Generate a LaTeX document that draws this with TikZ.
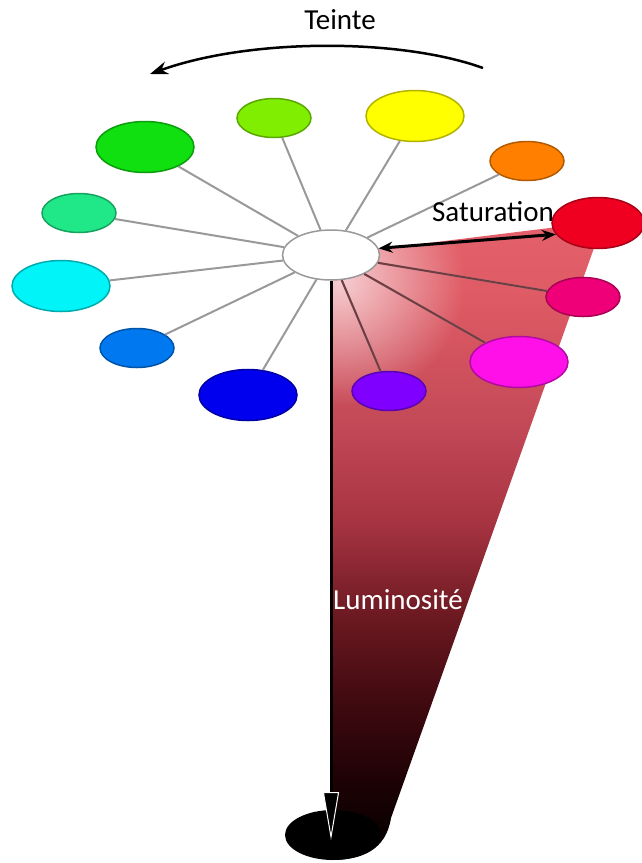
\documentclass[tikz,border=0pt]{standalone}
\usepackage{fontspec}
\setmainfont{Carlito}
\usetikzlibrary{shapes.geometric,arrows.meta,fadings}
\definecolor{cLime}{HTML}{80EE00}
\definecolor{cGreen}{HTML}{10E010}
\definecolor{cYellow}{HTML}{FFFF00}
\definecolor{cOrange}{HTML}{FF8000}
\definecolor{cRed}{HTML}{F00020}
\definecolor{cPink}{HTML}{F00078}
\definecolor{cMagenta}{HTML}{FF10E8}
\definecolor{cViolet}{HTML}{8000FF}
\definecolor{cBlue}{HTML}{0000EE}
\definecolor{cAzure}{HTML}{0078F0}
\definecolor{cCyan}{HTML}{00F4F8}
\definecolor{cSpring}{HTML}{20E888}
\definecolor{sA}{HTML}{E4606A}
\definecolor{sB}{HTML}{DE5A64}
\definecolor{sC}{HTML}{C44A58}
\definecolor{sD}{HTML}{A83442}
\definecolor{sE}{HTML}{6A1820}
\definecolor{sF}{HTML}{400A10}
\definecolor{sG}{HTML}{1E0205}
\definecolor{spokeDark}{HTML}{6A2E34}
\pgfdeclareverticalshading{lumshade}{100bp}{color(0bp)=(black); color(25bp)=(black); color(31.3bp)=(sG); color(37.5bp)=(sF); color(43.8bp)=(sE); color(51.6bp)=(sD); color(59.5bp)=(sC); color(68.9bp)=(sB); color(75bp)=(sA); color(100bp)=(sA)}
\tikzfading[name=myglow, inner color=transparent!0, outer color=transparent!100]
\begin{document}
\begin{tikzpicture}[x=1pt,y=-1pt,
  hue/.style={ellipse, draw=#1!70!black, fill=#1, line width=1.5pt, inner sep=0pt},
  bigE/.style={minimum width=98pt, minimum height=51pt},
  smallE/.style={minimum width=74pt, minimum height=39pt},
  spoke/.style={draw=black!40, line width=2pt},
  lbl/.style={font=\fontsize{29}{34}\selectfont, inner sep=0pt}]
\useasboundingbox (0,0) rectangle (642,863);
\def\tripath{(331,255) -- (598,222) -- (594,248) -- (391,818) .. controls (386,850) and (362,860) .. (331,860) -- cycle}
% gradient triangle
\shade[shading=lumshade] \tripath;
\begin{scope}
  \clip \tripath;
  \fill[white, fill opacity=0.7, path fading=myglow] (340,280) circle (125);
\end{scope}
% bottom black ellipse
\node[ellipse, fill=black, minimum width=96pt, minimum height=50pt, inner sep=0pt] (k) at (333,835) {};
\coordinate (tipL) at (331,840);
% hue ellipses
\node[hue=cLime, smallE] (lime) at (274,118) {};
\node[hue=cGreen, bigE] (green) at (145,147) {};
\node[hue=cYellow, bigE] (yellow) at (415,116) {};
\node[hue=cOrange, smallE] (orange) at (527,161) {};
\node[hue=cRed, bigE, minimum width=92pt] (red) at (598,223) {};
\node[hue=cPink, smallE] (pink) at (583,297) {};
\node[hue=cMagenta, bigE] (magenta) at (519,362) {};
\node[hue=cViolet, smallE] (violet) at (389,391) {};
\node[hue=cBlue, bigE] (blue) at (248,395) {};
\node[hue=cAzure, smallE] (azure) at (137,348) {};
\node[hue=cCyan, bigE] (cyan) at (61,286) {};
\node[hue=cSpring, smallE] (spring) at (79,213) {};
\node[ellipse, draw=black!40, fill=white, line width=1.5pt, inner sep=0pt,
      minimum width=97pt, minimum height=50pt] (c) at (331,255) {};
% spokes
\foreach \n in {lime,green,yellow,orange,pink,magenta,violet,blue,azure,cyan,spring}
  \draw[spoke] (c) -- (\n);
\begin{scope}
  \clip \tripath;
  \foreach \n in {pink,magenta,violet}
    \draw[spoke, draw=spokeDark, draw opacity=0.85] (c) -- (\n);
\end{scope}
% luminosity arrow
\draw[line width=3pt, -{Triangle[length=48pt,width=16pt,fill=black,color=white,line width=1pt]}] (c.south) -- (tipL);
% saturation arrow
\draw[line width=3pt, {Stealth[length=14pt,width=11pt]}-{Stealth[length=14pt,width=11pt]}] (c.8) -- (red.195);
% hue arc
\coordinate (a0) at (483,68);
\coordinate (a1) at (150,74);
\draw[line width=2.5pt, -{Stealth[length=18pt,width=13pt]}] (a0) .. controls (400,38) and (250,38) .. (a1);
% labels
\node[lbl] (tl) at (340,20) {Teinte};
\node[lbl] (sl) at (493,212) {Saturation};
\node[lbl, text=white] (ll) at (398,600) {Luminosité};
\end{tikzpicture}
\end{document}
